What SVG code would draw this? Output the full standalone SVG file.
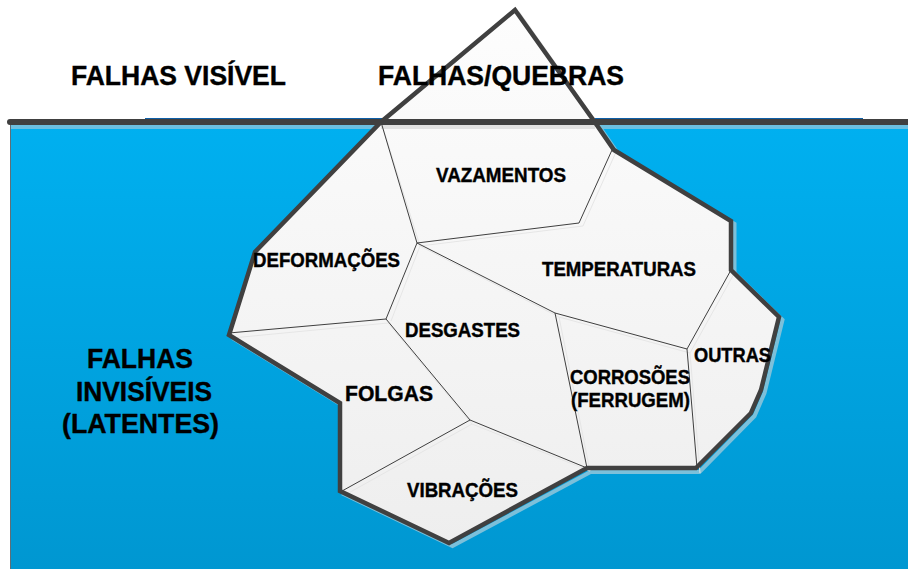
<svg xmlns="http://www.w3.org/2000/svg" width="908" height="569" viewBox="0 0 908 569">
  <defs>
    <linearGradient id="sea" x1="0" y1="0" x2="0" y2="1">
      <stop offset="0" stop-color="#00b0f0"/>
      <stop offset="1" stop-color="#0097d1"/>
    </linearGradient>
    <linearGradient id="ice" gradientUnits="userSpaceOnUse" x1="0" y1="10" x2="0" y2="545">
      <stop offset="0" stop-color="#fdfdfd"/>
      <stop offset="1" stop-color="#eeeeee"/>
    </linearGradient>
  </defs>
  <style>
    text { font-family: "Liberation Sans", Arial, sans-serif; font-weight: 700; fill: #000; stroke: #000; stroke-width: 0.4; }
    .big { font-size: 28px; }
    .mid { font-size: 20px; }
    .crack { fill: none; stroke: #3f3f3f; stroke-width: 1; }
    .crack-glow { fill: none; stroke: #e6e6e6; stroke-width: 1; }
    .outline { fill: none; stroke: #404040; stroke-width: 4.500; stroke-linejoin: miter; }
  </style>

  <!-- water body -->
  <g id="sea-body">
    <rect x="10.500" y="123" width="898" height="446" fill="url(#sea)"/>
    <path d="M10.500 123V569" fill="none" stroke="#5f6f78" stroke-width="1"/>
    <rect x="11" y="125" width="897" height="4" fill="#6cbfe0"/>
    <rect x="145" y="118" width="718" height="2" fill="#0e5fa8"/>
  </g>

  <!-- iceberg: soft offset edge, then the body -->
  <g id="iceberg">
    <path d="M597.500 124L617.500 153L734.500 224V273L782.500 320L764.500 393L754.500 416L699.500 472H590.500L452.500 546L343.500 494V406L232.500 338" fill="none" stroke="#7cc0da" stroke-width="4"/>
    <path d="M518 12L597 124" fill="none" stroke="#dcdcdc" stroke-width="3"/>
    <path d="M515 10L381 122L255 252L229 335L340 403V491L449 543L587 468H696L751 413L761 390L779 317L731 270V221L614 150L594 121Z" fill="url(#ice)"/>
    <rect x="381" y="125" width="214" height="4" fill="#e2e2e2"/>
  </g>

  <!-- fracture lines between the regions -->
  <g id="cracks">
    <path class="crack-glow" d="M383 128L420 246L583 226L616 152M391 321L420 246M232 338L388 323L472 424L345 495M472 424L590 471L559 317L690 353L700 473M690 353L735 272M420 246L559 317"/>
    <path class="crack" d="M381 122L417 243L579 223L612 150M386 319L417 243M229 333L386 319L470 420L342 491M470 420L587 468L555 313L687 349L697 468M687 349L731 270M417 243L555 313"/>
  </g>

  <!-- waterline and outline of the berg -->
  <g id="outline">
    <path class="outline" d="M515 10L381 122L255 252L229 335L340 403V491L449 543L587 468H696L751 413L761 390L779 317L731 270V221L614 150L594 121Z"/>
    <path d="M10 122H908" fill="none" stroke="#404040" stroke-width="6" stroke-linecap="round"/>
  </g>

  <!-- labels -->
  <g id="label-falhas-visivel"><text class="big" x="71" y="85" textLength="215" lengthAdjust="spacingAndGlyphs">FALHAS VISÍVEL</text></g>
  <g id="label-falhas-quebras"><text class="big" x="378" y="85" textLength="246" lengthAdjust="spacingAndGlyphs">FALHAS/QUEBRAS</text></g>
  <g id="label-falhas-invisiveis">
    <text class="big" x="87" y="368" textLength="106" lengthAdjust="spacingAndGlyphs">FALHAS</text>
    <text class="big" x="76" y="400.500" textLength="136" lengthAdjust="spacingAndGlyphs">INVISÍVEIS</text>
    <text class="big" x="62" y="433" textLength="157" lengthAdjust="spacingAndGlyphs">(LATENTES)</text>
  </g>
  <g id="label-vazamentos"><text class="mid" x="436" y="181.500" textLength="130" lengthAdjust="spacingAndGlyphs">VAZAMENTOS</text></g>
  <g id="label-temperaturas"><text class="mid" x="542" y="275.500" textLength="154" lengthAdjust="spacingAndGlyphs">TEMPERATURAS</text></g>
  <g id="label-deformacoes"><text class="mid" x="253" y="267" textLength="147" lengthAdjust="spacingAndGlyphs">DEFORMAÇÕES</text></g>
  <g id="label-desgastes"><text class="mid" x="405" y="337" textLength="115" lengthAdjust="spacingAndGlyphs">DESGASTES</text></g>
  <g id="label-folgas"><text class="mid" x="345" y="401" style="font-size:22px" textLength="88" lengthAdjust="spacingAndGlyphs">FOLGAS</text></g>
  <g id="label-corrosoes">
    <text class="mid" x="570" y="384" textLength="120" lengthAdjust="spacingAndGlyphs">CORROSÕES</text>
    <text class="mid" x="571" y="406.500" textLength="119" lengthAdjust="spacingAndGlyphs">(FERRUGEM)</text>
  </g>
  <g id="label-outras"><text class="mid" x="694" y="362" textLength="77" lengthAdjust="spacingAndGlyphs">OUTRAS</text></g>
  <g id="label-vibracoes"><text class="mid" x="407" y="497" textLength="111" lengthAdjust="spacingAndGlyphs">VIBRAÇÕES</text></g>
</svg>
